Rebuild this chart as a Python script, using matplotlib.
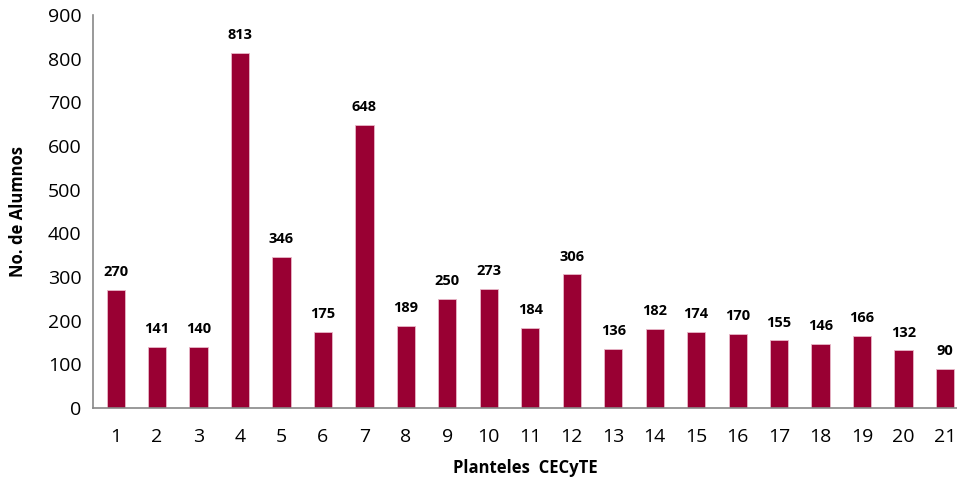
import numpy as np
import matplotlib.pyplot as plt

# planteles and number of students
planteles = [str(i) for i in range(1, 22)]
alumnos = [270, 141, 140, 813, 346, 175, 648, 189, 250, 273, 184, 306,
           136, 182, 174, 170, 155, 146, 166, 132, 90]

plt.rcParams['font.family'] = ['Open Sans', 'DejaVu Sans']

fig = plt.figure(figsize=(9.57, 4.83), dpi=100)
ax = fig.add_axes([0.097, 0.155, 0.903, 0.814])

x = np.arange(len(planteles))
ax.bar(x, alumnos, width=0.44, color='#990033', edgecolor='#e8b8c8', linewidth=0.6)

for xi, v in zip(x, alumnos):
    ax.text(xi, v + 25, str(v), ha='center', va='bottom', fontsize=10.5, fontweight='bold')

ax.set_xlim(-0.55, 20.29)
ax.set_ylim(0, 900)
ax.set_yticks(range(0, 901, 100))
ax.set_xticks(x)
ax.set_xticklabels(planteles)
ax.tick_params(axis='both', length=0, labelsize=14)
ax.tick_params(axis='x', pad=14)
ax.tick_params(axis='y', pad=8)

for s in ['top', 'right']:
    ax.spines[s].set_visible(False)
for s in ['left', 'bottom']:
    ax.spines[s].set_color('#888888')
    ax.spines[s].set_linewidth(1.2)

ax.set_xlabel('Planteles  CECyTE', fontsize=12, fontweight='bold', labelpad=10)
ax.set_ylabel('No. de Alumnos', fontsize=12, fontweight='bold', labelpad=15)

fig.savefig('out.png', dpi=100)
